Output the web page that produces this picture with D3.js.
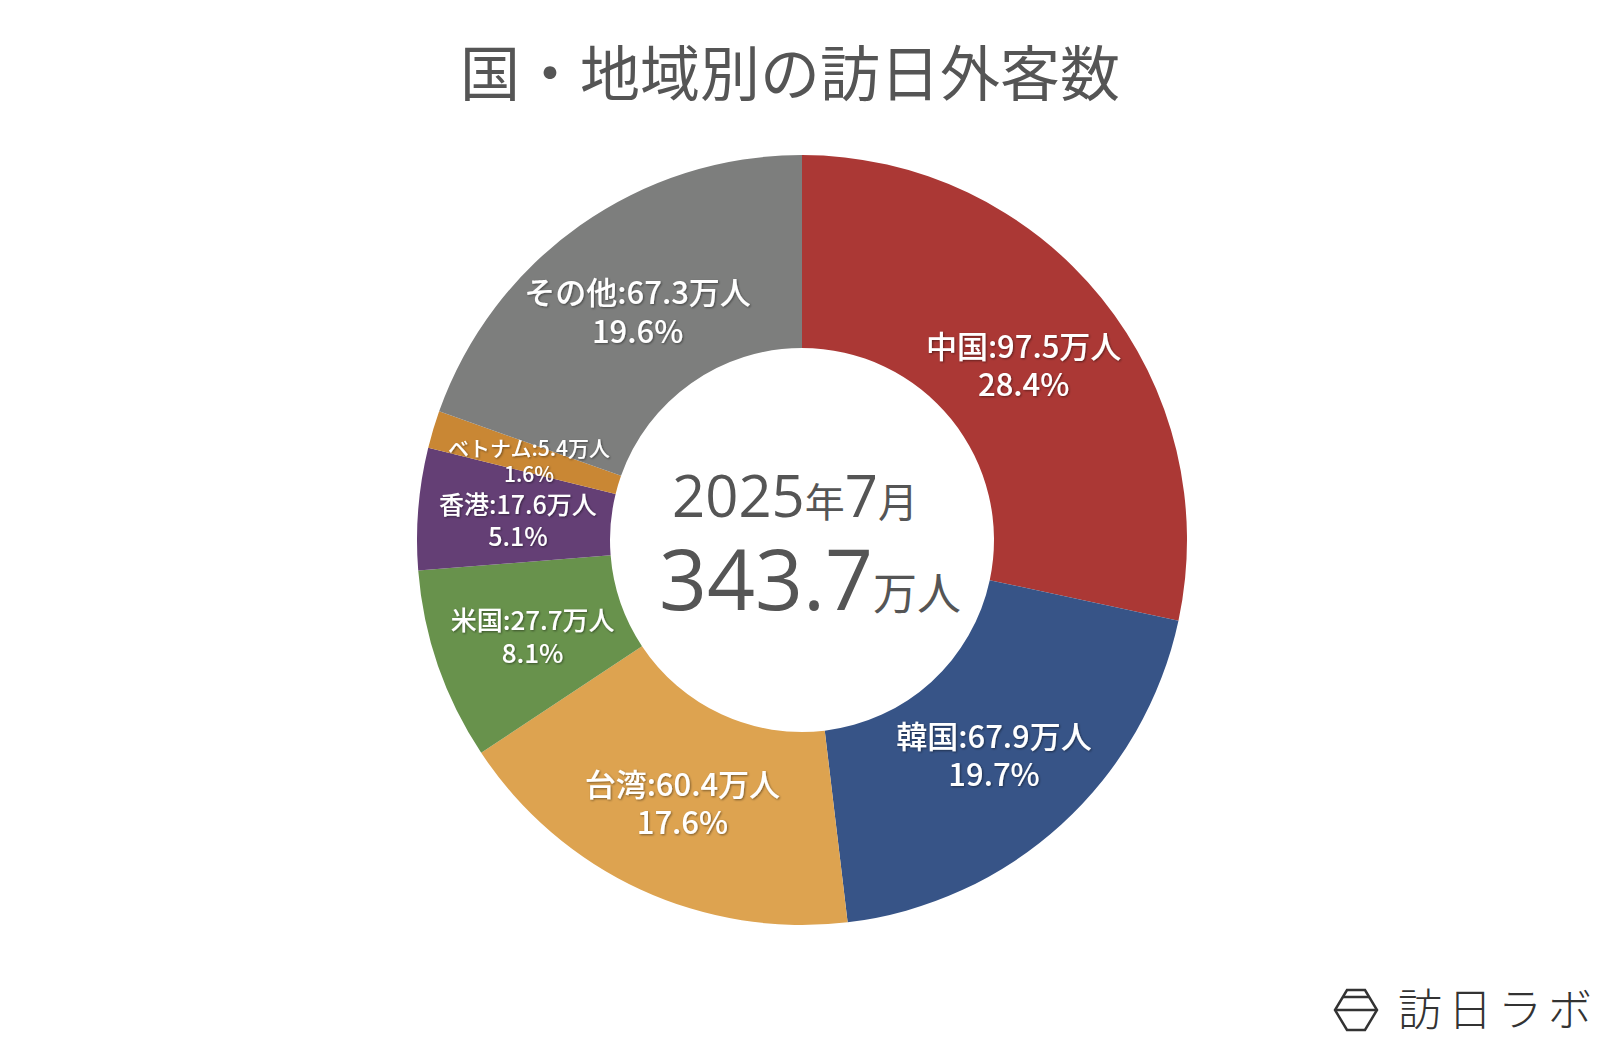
<!DOCTYPE html>
<html><head><meta charset="utf-8">
<script src="https://cdn.jsdelivr.net/npm/d3@7"></script>
<style>body{margin:0;background:#fff;}svg{display:block;}</style>
</head><body>
<svg id="chart" width="1600" height="1047"></svg>
<script>
var categories = ["中国", "韓国", "台湾", "米国", "香港", "ベトナム", "その他"];
var values = [97.5, 67.9, 60.4, 27.7, 17.6, 5.4, 67.3];
var shares = ["28.4%", "19.7%", "17.6%", "8.1%", "5.1%", "1.6%", "19.6%"];
var colors = ["#AB3835", "#375487", "#DDA350", "#68924C", "#643F75", "#C98734", "#7D7E7D"];
var labelSizes = [31, 31, 31, 26, 25, 21, 31];

var font = "'Noto Sans CJK JP', 'Noto Sans', sans-serif";
var numFont = "'Open Sans', 'Noto Sans CJK JP', sans-serif";
var svg = d3.select("#chart");
var cx = 802, cy = 540;

svg.append("defs").append("filter").attr("id", "sh")
  .append("feDropShadow").attr("dx", 1).attr("dy", 1).attr("stdDeviation", 1.2)
  .attr("flood-color", "#000").attr("flood-opacity", 0.45);

svg.append("text").attr("x", 790).attr("y", 96).attr("text-anchor", "middle")
  .attr("font-family", font).attr("font-size", 60).attr("fill", "#555")
  .text("国・地域別の訪日外客数");

var pie = d3.pie().sort(null).value(function(d) { return d; });
var arcs = pie(values);
var arc = d3.arc().innerRadius(192).outerRadius(385);
var labelArc = d3.arc().innerRadius(285).outerRadius(285);

var g = svg.append("g").attr("transform", "translate(" + cx + "," + cy + ")");
g.selectAll("path").data(arcs).enter().append("path")
  .attr("d", arc).attr("fill", function(d, i) { return colors[i]; });

var labels = g.selectAll("text.lab").data(arcs).enter().append("text")
  .attr("class", "lab")
  .attr("transform", function(d) { return "translate(" + labelArc.centroid(d) + ")"; })
  .attr("text-anchor", "middle").attr("font-family", font).attr("fill", "#fff")
  .attr("font-weight", 500).attr("filter", "url(#sh)")
  .attr("font-size", function(d, i) { return labelSizes[i]; });
labels.append("tspan").attr("x", 0).attr("dy", "-0.1em")
  .text(function(d, i) { return categories[i] + ":" + values[i] + "万人"; });
labels.append("tspan").attr("x", 0).attr("dy", "1.25em")
  .text(function(d, i) { return shares[i]; });

// center
var t1 = svg.append("text").attr("x", 795).attr("y", 517).attr("text-anchor", "middle")
  .attr("font-family", numFont).attr("fill", "#555");
t1.append("tspan").attr("font-size", 58).text("2025");
t1.append("tspan").attr("font-family", font).attr("font-size", 40).text("年");
t1.append("tspan").attr("font-size", 58).text("7");
t1.append("tspan").attr("font-family", font).attr("font-size", 40).text("月");
var total = d3.sum(values) - 0.1;
var t2 = svg.append("text").attr("x", 810).attr("y", 610).attr("text-anchor", "middle")
  .attr("font-family", numFont).attr("fill", "#555");
t2.append("tspan").attr("font-size", 84).text(total.toFixed(1));
t2.append("tspan").attr("font-family", font).attr("font-size", 44).text("万人");

// logo
var lg = svg.append("g").attr("transform", "translate(1356,1010)")
  .attr("fill", "none").attr("stroke", "#333").attr("stroke-width", 2.5);
lg.append("path").attr("d", "M-9,-20 L9,-20 L21,0 L9,20 L-9,20 L-21,0 Z");
lg.append("line").attr("x1", -13).attr("x2", 13).attr("y1", -13).attr("y2", -13);
lg.append("line").attr("x1", -21).attr("x2", 21).attr("y1", 0).attr("y2", 0);
svg.append("text").attr("x", 1398).attr("y", 1026).attr("font-family", font)
  .attr("font-weight", 300).attr("font-size", 44).attr("fill", "#333").attr("letter-spacing", 6)
  .text("訪日ラボ");
</script>
</body></html>
